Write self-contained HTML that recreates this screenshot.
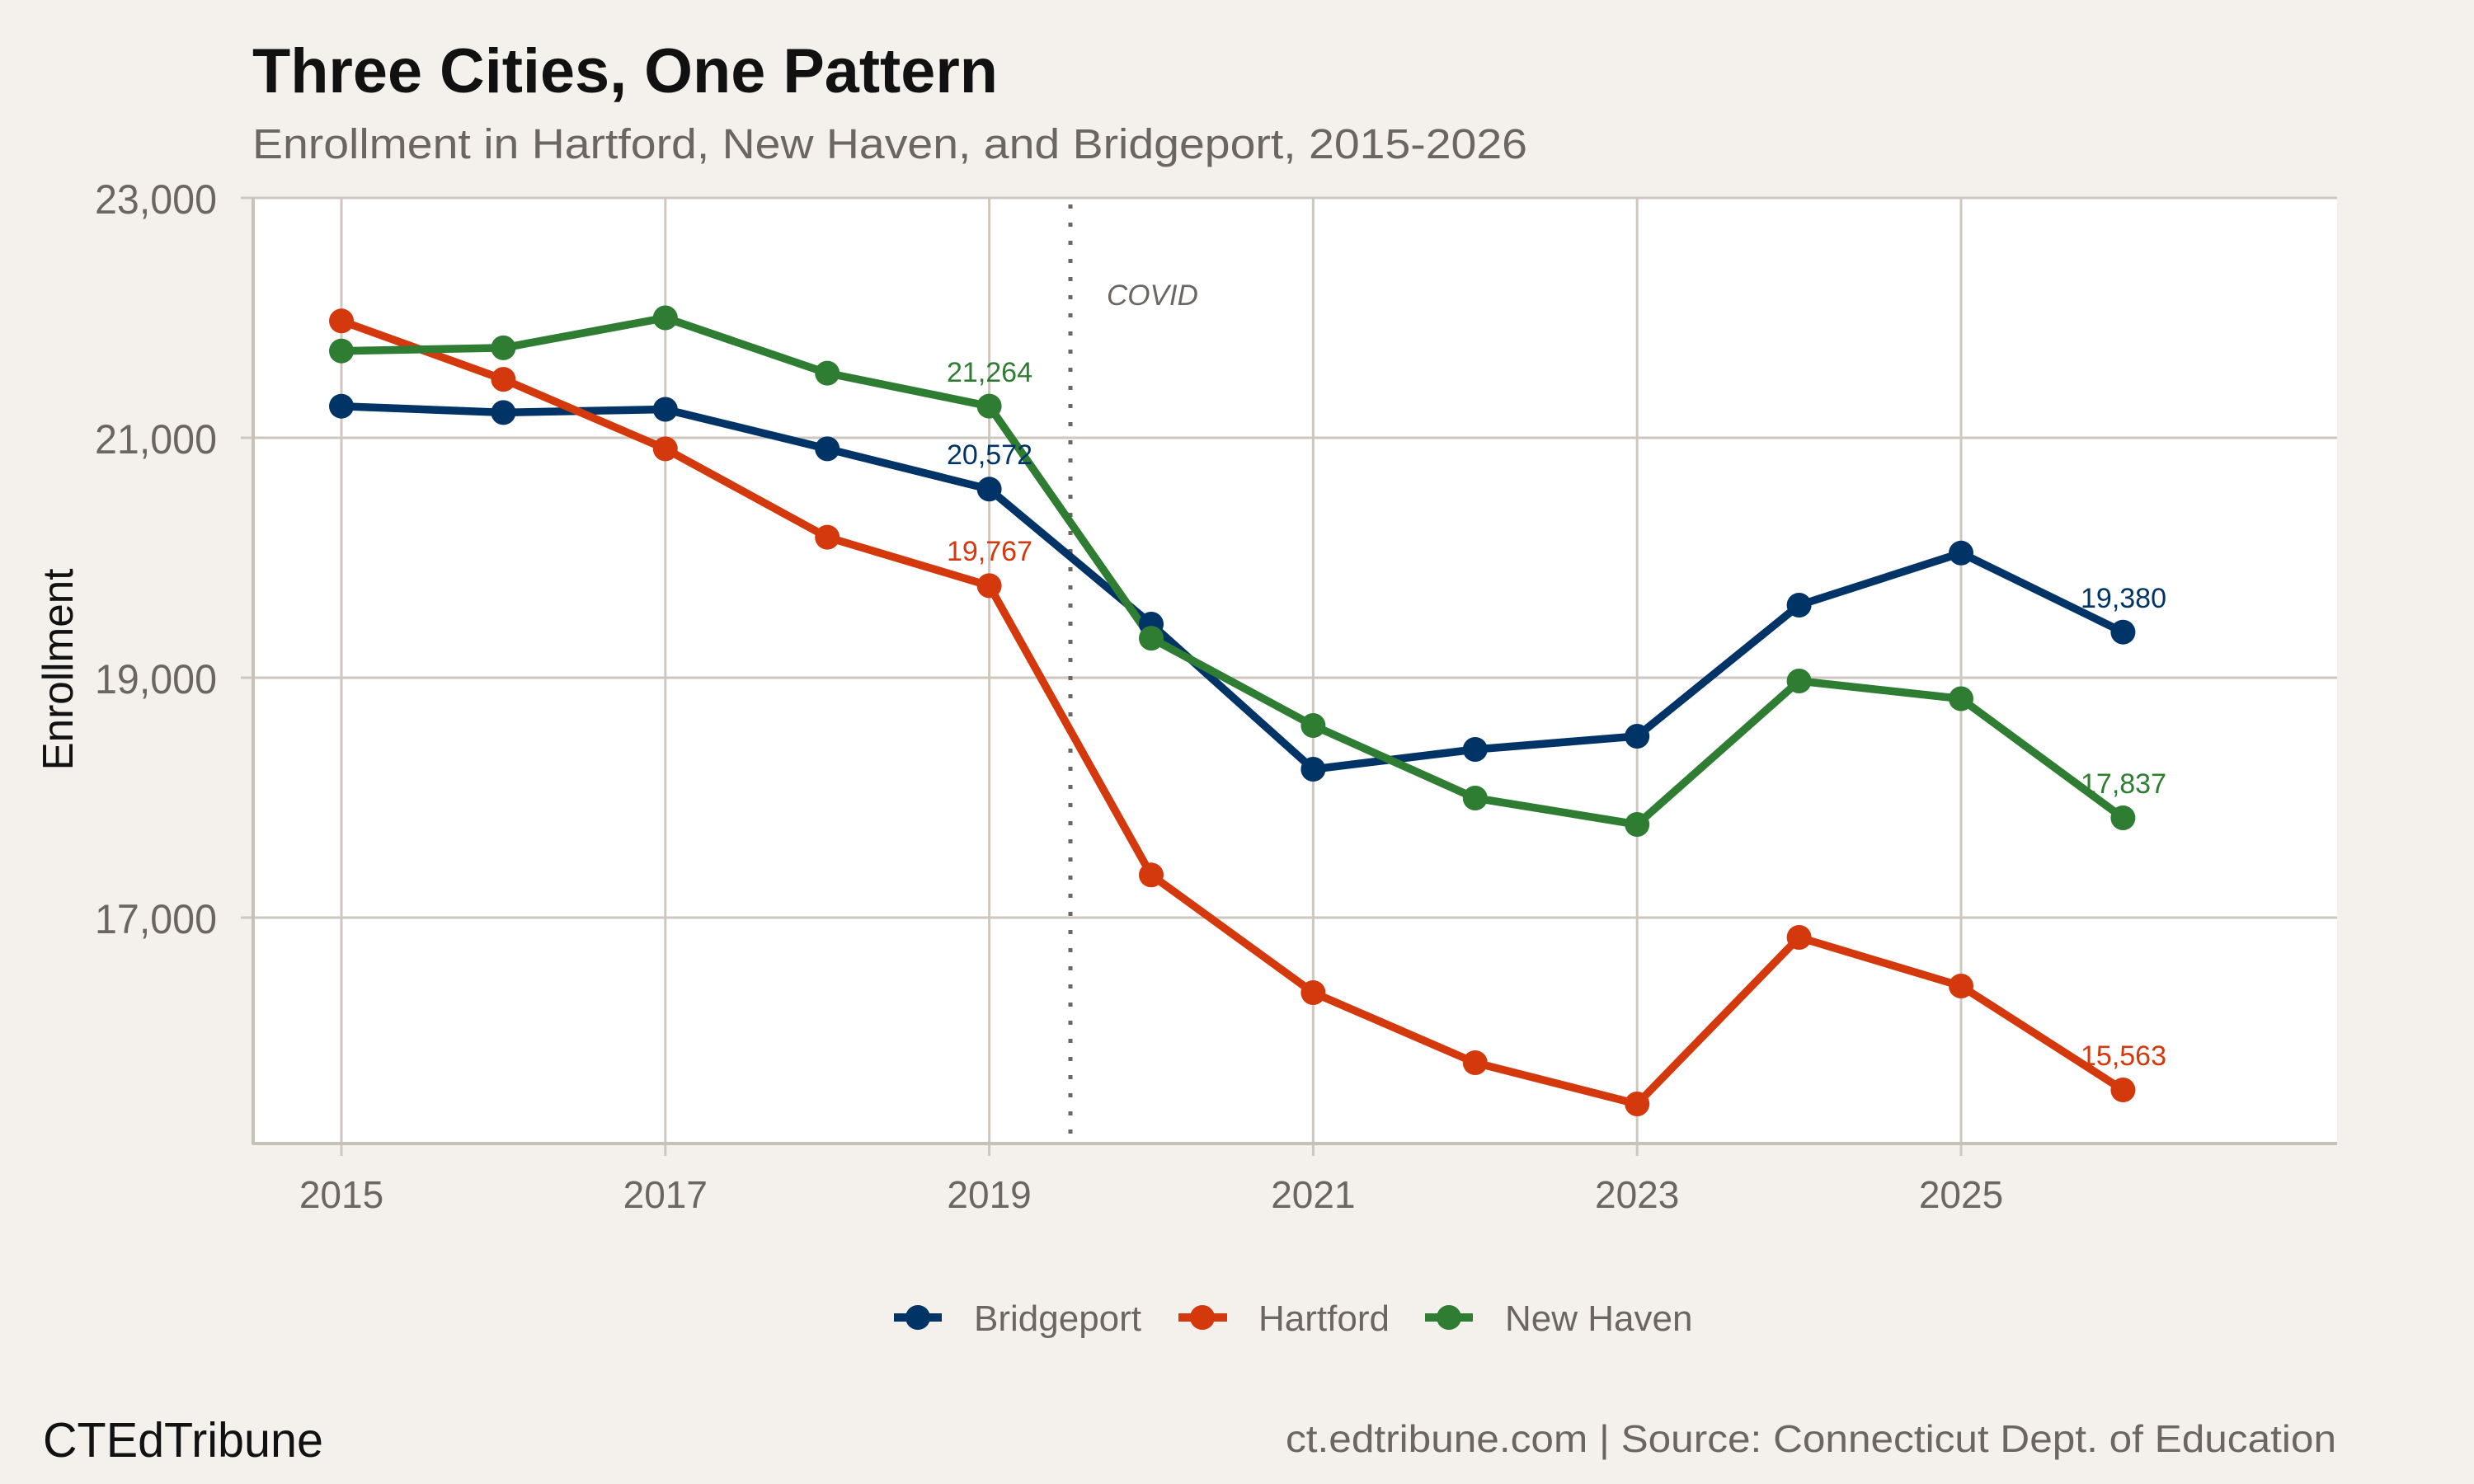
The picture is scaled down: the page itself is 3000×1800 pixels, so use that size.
<!DOCTYPE html>
<html><head><meta charset="utf-8"><style>
html,body{margin:0;padding:0;background:#f4f1ec;}
svg{display:block;font-family:"Liberation Sans",sans-serif;}
</style></head><body>
<svg width="3000" height="1800" viewBox="0 0 3000 1800" xmlns="http://www.w3.org/2000/svg">
<rect width="3000" height="1800" fill="#f4f1ec"/>
<text x="306" y="112" font-size="76" font-weight="bold" fill="#111" textLength="904" lengthAdjust="spacingAndGlyphs">Three Cities, One Pattern</text>
<text x="306" y="192" font-size="51" fill="#6b6661" textLength="1546" lengthAdjust="spacingAndGlyphs">Enrollment in Hartford, New Haven, and Bridgeport, 2015-2026</text>
<rect x="306" y="240" width="2528" height="1148" fill="#fff"/>
<g stroke="#cdc7bf" stroke-width="3">
<line x1="292" y1="240" x2="2834" y2="240"/>
<line x1="292" y1="531" x2="2834" y2="531"/>
<line x1="292" y1="822" x2="2834" y2="822"/>
<line x1="292" y1="1113" x2="2834" y2="1113"/>
<line x1="414" y1="240" x2="414" y2="1402"/>
<line x1="806.8" y1="240" x2="806.8" y2="1402"/>
<line x1="1199.6" y1="240" x2="1199.6" y2="1402"/>
<line x1="1592.4" y1="240" x2="1592.4" y2="1402"/>
<line x1="1985.2" y1="240" x2="1985.2" y2="1402"/>
<line x1="2378" y1="240" x2="2378" y2="1402"/>
</g>
<g stroke="#c8c1b8" stroke-width="4"><line x1="307" y1="240" x2="307" y2="1388"/><line x1="306" y1="1387" x2="2834" y2="1387"/></g>
<g font-size="50" fill="#6b6661" text-anchor="end">
<text x="263" y="259" textLength="148" lengthAdjust="spacingAndGlyphs">23,000</text><text x="263" y="550" textLength="148" lengthAdjust="spacingAndGlyphs">21,000</text><text x="263" y="841" textLength="148" lengthAdjust="spacingAndGlyphs">19,000</text><text x="263" y="1132" textLength="148" lengthAdjust="spacingAndGlyphs">17,000</text>
</g>
<g font-size="46" fill="#6b6661" text-anchor="middle">
<text x="414" y="1465">2015</text><text x="806.8" y="1465">2017</text><text x="1199.6" y="1465">2019</text><text x="1592.4" y="1465">2021</text><text x="1985.2" y="1465">2023</text><text x="2378" y="1465">2025</text>
</g>
<text transform="translate(88,812) rotate(-90)" font-size="52" fill="#111" text-anchor="middle" textLength="245" lengthAdjust="spacingAndGlyphs">Enrollment</text>
<line x1="1298" y1="248" x2="1298" y2="1388" stroke="#6b6661" stroke-width="5" stroke-dasharray="5,17"/>
<text x="1342" y="370" font-size="35" font-style="italic" fill="#6b6661">COVID</text>
<g fill="none" stroke-width="9.5" stroke-linejoin="round">
<polyline stroke="#003366" points="414,492.7 610.4,500.4 806.8,496.5 1003.2,544.4 1199.6,593.3 1396,757 1592.4,933 1788.8,909 1985.2,893 2181.6,734 2378,670.8 2574.4,766.7"/>
<polyline stroke="#d4380d" points="414,389.3 610.4,460.1 806.8,544.4 1003.2,651.6 1199.6,710.4 1396,1061.3 1592.4,1204 1788.8,1289 1985.2,1339 2181.6,1137 2378,1196 2574.4,1322"/>
<polyline stroke="#2e7d32" points="414,425.7 610.4,421.9 806.8,385.5 1003.2,452.6 1199.6,492.6 1396,774.1 1592.4,880 1788.8,968 1985.2,1000 2181.6,826 2378,847.5 2574.4,992"/>
</g>
<g fill="#003366">
<circle cx="414" cy="492.7" r="15"/><circle cx="610.4" cy="500.4" r="15"/><circle cx="806.8" cy="496.5" r="15"/><circle cx="1003.2" cy="544.4" r="15"/><circle cx="1199.6" cy="593.3" r="15"/><circle cx="1396" cy="757" r="15"/><circle cx="1592.4" cy="933" r="15"/><circle cx="1788.8" cy="909" r="15"/><circle cx="1985.2" cy="893" r="15"/><circle cx="2181.6" cy="734" r="15"/><circle cx="2378" cy="670.8" r="15"/><circle cx="2574.4" cy="766.7" r="15"/>
</g>
<g fill="#d4380d">
<circle cx="414" cy="389.3" r="15"/><circle cx="610.4" cy="460.1" r="15"/><circle cx="806.8" cy="544.4" r="15"/><circle cx="1003.2" cy="651.6" r="15"/><circle cx="1199.6" cy="710.4" r="15"/><circle cx="1396" cy="1061.3" r="15"/><circle cx="1592.4" cy="1204" r="15"/><circle cx="1788.8" cy="1289" r="15"/><circle cx="1985.2" cy="1339" r="15"/><circle cx="2181.6" cy="1137" r="15"/><circle cx="2378" cy="1196" r="15"/><circle cx="2574.4" cy="1322" r="15"/>
</g>
<g fill="#2e7d32">
<circle cx="414" cy="425.7" r="15"/><circle cx="610.4" cy="421.9" r="15"/><circle cx="806.8" cy="385.5" r="15"/><circle cx="1003.2" cy="452.6" r="15"/><circle cx="1199.6" cy="492.6" r="15"/><circle cx="1396" cy="774.1" r="15"/><circle cx="1592.4" cy="880" r="15"/><circle cx="1788.8" cy="968" r="15"/><circle cx="1985.2" cy="1000" r="15"/><circle cx="2181.6" cy="826" r="15"/><circle cx="2378" cy="847.5" r="15"/><circle cx="2574.4" cy="992" r="15"/>
</g>
<g font-size="34" text-anchor="middle">
<text x="1200" y="463" fill="#2e7d32">21,264</text>
<text x="1200" y="563" fill="#003366">20,572</text>
<text x="1200" y="680" fill="#d4380d">19,767</text>
<text x="2575" y="737" fill="#003366">19,380</text>
<text x="2575" y="962" fill="#2e7d32">17,837</text>
<text x="2575" y="1292" fill="#d4380d">15,563</text>
</g>
<g stroke-width="10">
<line x1="1084" y1="1598" x2="1142" y2="1598" stroke="#003366"/>
<line x1="1429" y1="1598" x2="1488" y2="1598" stroke="#d4380d"/>
<line x1="1728" y1="1598" x2="1786" y2="1598" stroke="#2e7d32"/>
</g>
<circle cx="1113" cy="1598" r="15" fill="#003366"/>
<circle cx="1458" cy="1598" r="15" fill="#d4380d"/>
<circle cx="1757" cy="1598" r="15" fill="#2e7d32"/>
<g font-size="44" fill="#6b6661">
<text x="1181" y="1614">Bridgeport</text>
<text x="1526" y="1614">Hartford</text>
<text x="1825" y="1614">New Haven</text>
</g>
<text x="52" y="1767" font-size="59" fill="#111" textLength="340" lengthAdjust="spacingAndGlyphs">CTEdTribune</text>
<text x="2833" y="1761" font-size="46" fill="#6b6661" text-anchor="end" textLength="1274" lengthAdjust="spacingAndGlyphs">ct.edtribune.com | Source: Connecticut Dept. of Education</text>
</svg>
</body></html>
